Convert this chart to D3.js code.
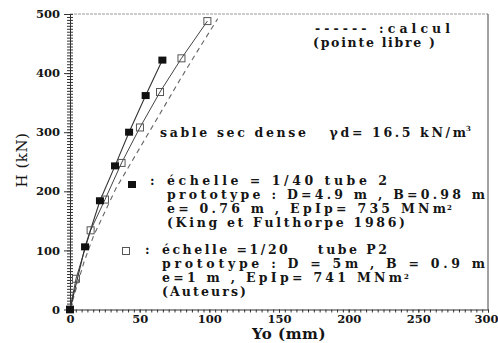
<!DOCTYPE html>
<html>
<head>
<meta charset="utf-8">
<script src="https://cdn.jsdelivr.net/npm/d3@7"></script>
<style>
  html, body { margin: 0; padding: 0; background: #fff; }
  svg { display: block; }
  text { font-family: "DejaVu Serif", "Liberation Serif", serif; fill: #151515; white-space: pre; }
</style>
</head>
<body>
<svg id="chart" width="498" height="343"></svg>
<script>
// Horizontal load H (kN) versus head displacement Yo (mm)
const yoKing = [0, 10.8, 21.5, 32.3, 42.4, 54.3, 66.3];
const hKing = [0, 106, 184, 243, 300, 362, 422];

const yoAuteurs = [0, 4.3, 14.8, 25.1, 37.0, 50.2, 64.6, 80.0, 98.6];
const hAuteurs = [0, 52, 134, 186, 248, 308, 368, 425, 488];

const yoCalcul = [0, 5, 10, 17, 25, 33, 43, 55, 68, 80, 93, 106];
const hCalcul = [0, 40, 80, 125, 165, 205, 245, 293, 345, 393, 443, 492];

const xTicks = [0, 50, 100, 150, 200, 250, 300];
const yTicks = [0, 100, 200, 300, 400, 500];

const xTitle = "Yo (mm)";
const yTitle = "H (kN)";

const svg = d3.select("#chart");
const plotL = 70, plotR = 488, plotT = 14, plotB = 309.5;

const x = d3.scaleLinear().domain([0, 300]).range([plotL, plotR]);
const y = d3.scaleLinear().domain([0, 500]).range([plotB, plotT]);

// frame: faint top edge, solid right edge
svg.append("line").attr("x1", plotL).attr("x2", plotR).attr("y1", plotT).attr("y2", plotT)
  .attr("stroke", "#9a9a9a").attr("stroke-width", 1).attr("stroke-dasharray", "3,1");
svg.append("line").attr("x1", plotR).attr("x2", plotR).attr("y1", plotT).attr("y2", plotB)
  .attr("stroke", "#444").attr("stroke-width", 1);

// y axis: minor ticks crossing the axis line, labelled majors
const yMinor = d3.range(0, 501, 5);
svg.append("g").attr("transform", `translate(${plotL},0)`)
  .call(d3.axisLeft(y).tickValues(yMinor).tickSize(3).tickFormat("").tickSizeOuter(0))
  .call(g => g.selectAll("line,path").attr("stroke", "#333"));
svg.append("g").attr("transform", `translate(${plotL},0)`)
  .call(d3.axisRight(y).tickValues(yMinor).tickSize(3).tickFormat("").tickSizeOuter(0))
  .call(g => g.select("path").remove())
  .call(g => g.selectAll("line").attr("stroke", "#333"));
svg.append("g").attr("transform", `translate(${plotL},0)`)
  .call(d3.axisLeft(y).tickValues(yTicks).tickSize(6).tickPadding(4).tickSizeOuter(0))
  .call(g => g.select("path").remove())
  .call(g => g.selectAll("line").attr("stroke", "#333"))
  .call(g => g.selectAll("text").attr("font-weight", "bold")
    .attr("font-size", 11.5).attr("fill", "#222"));

// x axis
const xMinor = d3.range(0, 300.01, 50 / 12);
svg.append("g").attr("transform", `translate(0,${plotB})`)
  .call(d3.axisBottom(x).tickValues(xMinor).tickSize(3).tickFormat("").tickSizeOuter(0))
  .call(g => g.selectAll("line,path").attr("stroke", "#333"));
svg.append("g").attr("transform", `translate(0,${plotB})`)
  .call(d3.axisBottom(x).tickValues(xTicks).tickSize(3).tickPadding(2).tickSizeOuter(0))
  .call(g => g.select("path").remove())
  .call(g => g.selectAll("line").attr("stroke", "#333"))
  .call(g => g.selectAll("text").attr("font-weight", "bold")
    .attr("font-size", 11.5).attr("fill", "#222"))
  .call(g => g.selectAll(".tick").filter(d => d === 300).select("text").attr("dx", -2));

// axis titles
svg.append("text").attr("x", 289).attr("y", 339).attr("text-anchor", "middle")
  .attr("font-size", 15).attr("font-weight", "bold").attr("letter-spacing", 0.5).text(xTitle);
svg.append("text").attr("transform", "translate(27,160) rotate(-90)").attr("text-anchor", "middle")
  .attr("font-size", 15).attr("letter-spacing", 0.5).text(yTitle);

// curves
const line = d3.line().x(d => x(d[0])).y(d => y(d[1]));
const king = yoKing.map((v, i) => [v, hKing[i]]);
const auteurs = yoAuteurs.map((v, i) => [v, hAuteurs[i]]);
const calcul = yoCalcul.map((v, i) => [v, hCalcul[i]]);

svg.append("path").datum(calcul).attr("d", line).attr("fill", "none")
  .attr("stroke", "#666").attr("stroke-width", 1.1).attr("stroke-dasharray", "5,4");
svg.append("path").datum(auteurs).attr("d", line).attr("fill", "none")
  .attr("stroke", "#444").attr("stroke-width", 1);
svg.append("path").datum(king).attr("d", line).attr("fill", "none")
  .attr("stroke", "#333").attr("stroke-width", 1.1);

// markers
svg.append("g").selectAll("rect").data(auteurs).join("rect")
  .attr("x", d => x(d[0]) - 3.5).attr("y", d => y(d[1]) - 3.5)
  .attr("width", 7).attr("height", 7)
  .attr("fill", "none").attr("stroke", "#555").attr("stroke-width", 1);
svg.append("g").selectAll("rect").data(king).join("rect")
  .attr("x", d => x(d[0]) - 4).attr("y", d => y(d[1]) - 3.5)
  .attr("width", 8).attr("height", 7).attr("fill", "#111");

// annotation text
function label(txt, x0, x1, base, size) {
  return svg.append("text").attr("x", x0).attr("y", base)
    .attr("font-size", size || 12.5).attr("font-weight", "bold")
    .attr("textLength", x1 - x0).attr("lengthAdjust", "spacing")
    .text(txt);
}
function sup(txt, x0, base) {
  svg.append("text").attr("x", x0).attr("y", base)
    .attr("font-size", 7).attr("font-weight", "bold").text(txt);
}

label("------ :calcul", 315, 450, 33);
label("(pointe libre )", 313, 435, 47);

label("sable sec dense   γd= 16.5 kN/m", 160, 466, 137);
sup("3", 466, 131);

// block 1: King & Fulthorpe
svg.append("rect").attr("x", 128).attr("y", 181).attr("width", 8).attr("height", 7).attr("fill", "#111");
label(":", 150, 154, 185);
label("échelle = 1/40 tube 2", 167, 387, 185);
label("prototype : D=4.9 m , B=0.98 m", 167, 485, 199);
label("e= 0.76 m , EpIp= 735 MNm", 167, 446, 213);
sup("2", 447, 209.5);
label("(King et Fulthorpe 1986)", 167, 405, 227);

// block 2: present tests
svg.append("rect").attr("x", 122.5).attr("y", 247.5).attr("width", 7).attr("height", 7)
  .attr("fill", "none").attr("stroke", "#555").attr("stroke-width", 1);
label(":", 145, 149, 254);
label("échelle =1/20    tube P2", 162, 387, 254);
label("prototype : D = 5m , B = 0.9 m", 162, 485, 268);
label("e=1 m , EpIp= 741 MNm", 162, 402, 282);
sup("2", 404, 278.5);
label("(Auteurs)", 162, 246, 296);
</script>
</body>
</html>
